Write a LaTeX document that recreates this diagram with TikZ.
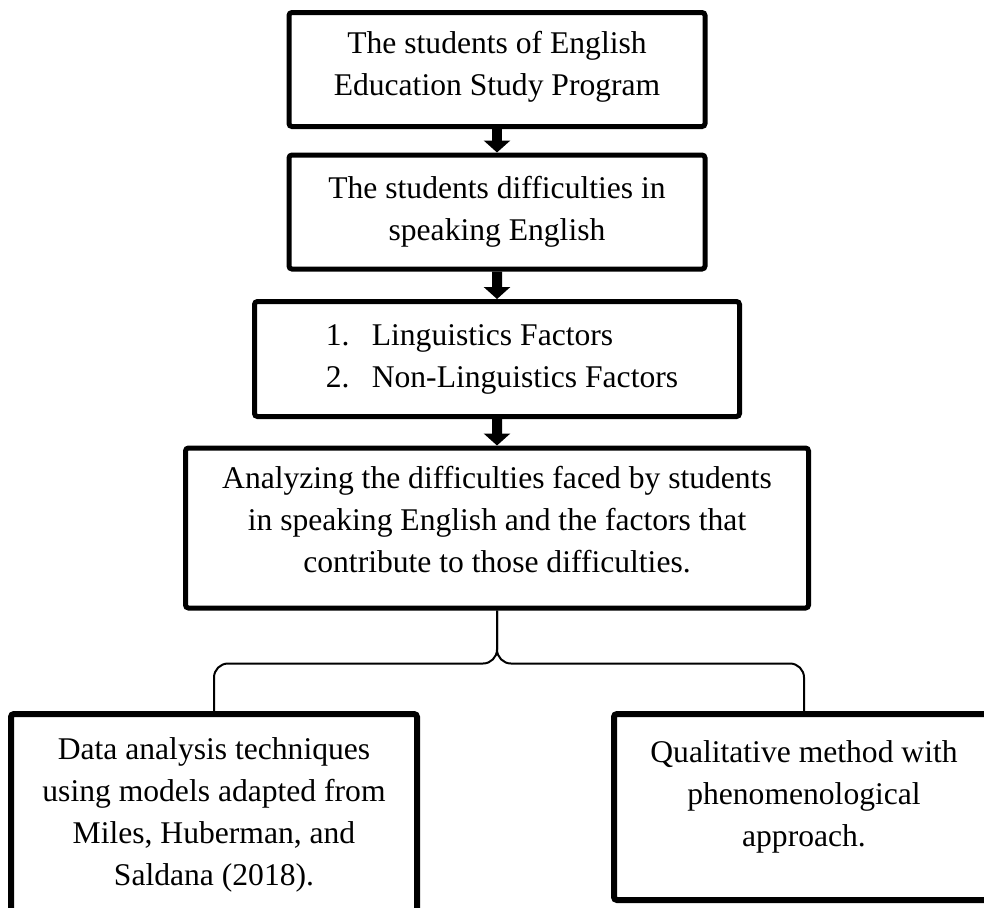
\documentclass[tikz,border=0pt]{standalone}
\usepackage{fontspec}
\setmainfont{Liberation Serif}
\usetikzlibrary{arrows.meta}

\begin{document}
\begin{tikzpicture}[
    grow=down,
    every node/.style={anchor=north, align=center, inner sep=0pt,
        font=\fontsize{15.8pt}{21pt}\selectfont},
    level 1/.style={level distance=41.5pt},
    level 2/.style={level distance=43.5pt},
    level 3/.style={level distance=43.25pt},
    level 4/.style={level distance=91.5pt, sibling distance=295pt,
        every child node/.style={xshift=6pt},
        edge from parent/.style={draw, line width=1pt, rounded corners=7pt},
        edge from parent path={(\tikzparentnode.south) -- ++(0,-26.5pt)
            -| (\tikzchildnode.north)}},
    edge from parent/.style={draw, line width=5pt,
        -{Triangle[width=13pt,length=6pt]}},
    edge from parent path={(\tikzparentnode.south) -- (\tikzchildnode.north)},
    StepBox/.style={rectangle, draw, line width=2.5pt, rounded corners=1.5pt,
        minimum width=208pt, minimum height=57pt},
    FactorBox/.style={StepBox, align=left, minimum width=242.5pt,
        minimum height=57.5pt},
    AimBox/.style={StepBox, minimum width=311.5pt, minimum height=80pt},
    LeafBox/.style={rectangle, draw, line width=3pt, rounded corners=1.5pt}
]
\useasboundingbox (0,0) rectangle (492pt,-453.5pt);
\node (program) [StepBox, text depth=6.5pt] at (248.5pt,-5pt)
    {The students of English\\Education Study Program}
    child {
        node (difficulty) [StepBox]
            {The students difficulties in\\speaking English}
        child {
            node (factors) [FactorBox] {
                \hspace*{5pt}\makebox[23pt][l]{1.}Linguistics Factors\\
                \hspace*{5pt}\makebox[23pt][l]{2.}Non-Linguistics Factors
                }
            child {
                node (analysis) [AimBox, text depth=9pt] {
                    Analyzing the difficulties faced by students\\
                    in speaking English and the factors that\\
                    contribute to those difficulties.
                    }
                    child {node (technique) [LeafBox, minimum width=203pt,
                        minimum height=106pt, text depth=8.5pt]
                        {Data analysis techniques\\
                        using models adapted from\\Miles, Huberman, and\\
                        Saldana (2018).}}
                    child {node (method) [LeafBox, minimum width=190pt,
                        minimum height=93pt, text depth=13pt]
                        {Qualitative method with\\
                        phenomenological\\approach.}}
                }
            }
    };
\end{tikzpicture}
\end{document}
